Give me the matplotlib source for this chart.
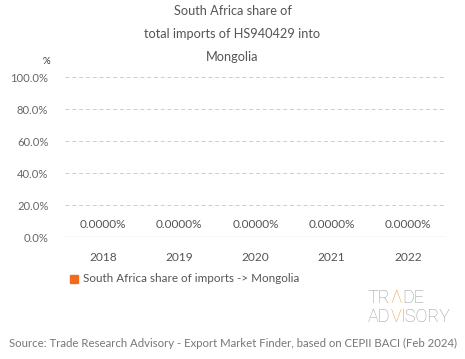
import numpy as np
import matplotlib
matplotlib.use("Agg")
import matplotlib.pyplot as plt

years = ["2018", "2019", "2020", "2021", "2022"]
share = [0.0, 0.0, 0.0, 0.0, 0.0]
yticks = [0, 20, 40, 60, 80, 100]
title = "South Africa share of\ntotal imports of HS940429 into\nMongolia"
legend_label = "South Africa share of imports -> Mongolia"
source = "Source: Trade Research Advisory - Export Market Finder, based on CEPII BACI (Feb 2024)"

orange = "#f26b1d"
grey = "#666666"
plt.rcParams["font.family"] = ["Lato", "DejaVu Sans"]

W, H = 465, 359
fig = plt.figure(figsize=(W / 100, H / 100), dpi=100)
ax = fig.add_axes([65 / W, 1 - 237 / H, (446 - 65) / W, 160 / H])

x = np.arange(len(years))
bars = ax.bar(x, share, width=0.6, color=orange)
for xi, v in zip(x, share):
    ax.text(xi, v + 8, "%.4f%%" % v, ha="center", va="center",
            fontsize=8.5, color="#555555")

ax.set_xlim(-0.5, len(years) - 0.5)
ax.set_ylim(0, 100)
ax.set_yticks(yticks)
ax.set_yticklabels(["%.1f%%" % t for t in yticks], fontsize=8.1, color=grey)
ax.set_xticks(x)
ax.set_xticklabels(years, fontsize=8.6, color="#555555")
ax.tick_params(axis="y", length=0, pad=12)
ax.tick_params(axis="x", length=0, pad=11)
for t in yticks[1:]:
    ax.axhline(t, color="#cccccc", lw=0.7, ls=(0, (4, 3)))
ax.axhline(0, color="#cccccc", lw=0.9)
for s in ax.spines.values():
    s.set_visible(False)

fig.text(0.5, 1 - 34 / H, title, ha="center", va="center", fontsize=9.2,
         color="#555555", linespacing=2.1)
fig.text(46 / W, 1 - 61 / H, "%", ha="center", va="center", fontsize=7,
         color="#333333")

# legend
fig.patches.append(plt.Rectangle((70 / W, 1 - 283 / H), 8 / W, 8 / H,
                                 transform=fig.transFigure, color=orange))
fig.text(83 / W, 1 - 279 / H, legend_label, ha="left", va="center",
         fontsize=8.4, color="#555555")

# logo
fig.canvas.draw()
r = fig.canvas.get_renderer()


def word(pieces, x0, y0):
    xp = x0
    for s, c in pieces:
        t = fig.text(xp / W, 1 - y0 / H, s, ha="left", va="center",
                     fontsize=13, color=c, family="Roboto", fontweight="light")
        bb = t.get_window_extent(r)
        xp += bb.width


lg = "#9a9a9a"
word([("TR", lg), ("\u039b", "#f0a030"), ("DE", lg)], 368, 298)
word([("AD", lg), ("V", "#f0a030"), ("ISORY", lg)], 368, 317)

fig.text(0.5, 1 - 343 / H, source, ha="center", va="center", fontsize=8.2,
         color="#777777")

fig.savefig("out.png", dpi=100)
